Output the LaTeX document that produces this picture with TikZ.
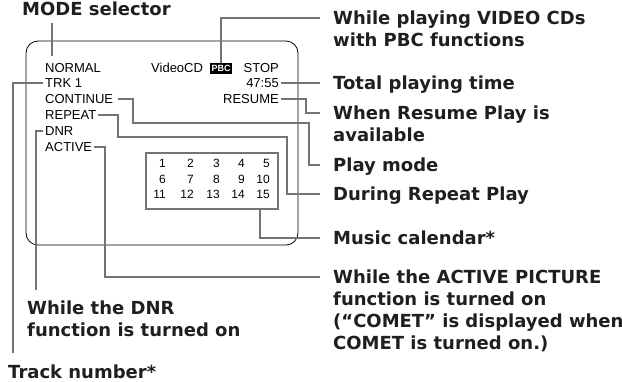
\documentclass[tikz,border=0pt]{standalone}
\usepackage{fontspec}
\setmainfont{Liberation Sans}
\newfontfamily\lblfont{DejaVu Sans}
\usetikzlibrary{positioning}

\tikzset{
  scr/.style={font=\fontsize{13}{15}\selectfont, inner sep=2pt, text height=9.4pt, text depth=0pt},
  lbl/.style={font=\lblfont\bfseries\fontsize{18}{22}\selectfont, text=black!88, inner sep=0pt, align=left, anchor=base west},
  lead/.style={draw=black!55, line width=1.6pt},
  num/.style={font=\fontsize{12}{14}\selectfont, anchor=base east, inner sep=0pt},
}

\begin{document}
\begin{tikzpicture}[x=1pt, y=-1pt]
  \useasboundingbox (0,0) rectangle (622,381);
  % screen
  \node[draw, line width=0.8pt, rounded corners=12pt, minimum width=272pt, minimum height=204pt] (screen) at (162,143) {};
  \node[scr, anchor=west] (normal) at (43,68) {NORMAL};
  \node[scr, anchor=west] (trk) at (43,83) {TRK 1};
  \node[scr, anchor=west] (cont) at (43,99) {CONTINUE};
  \node[scr, anchor=west] (rep) at (43,115) {REPEAT};
  \node[scr, anchor=west] (dnr) at (43,131) {DNR};
  \node[scr, anchor=west] (act) at (43,147) {ACTIVE};
  \node[scr, anchor=west] (video) at (149,68) {VideoCD};
  \node[fill=black, text=white, font=\bfseries\fontsize{9}{9}\selectfont, inner sep=1pt, minimum width=22pt, minimum height=11pt] (pbc) at (221,68.5) {PBC};
  \node[scr, anchor=east] (stop) at (281,68) {STOP};
  \node[scr, anchor=east] (time) at (281,83) {47:55};
  \node[scr, anchor=east] (resume) at (281,99) {RESUME};
  % music calendar
  \node[draw=black!55, line width=1.6pt, minimum width=132pt, minimum height=56pt, inner sep=0pt] (cal) at (212,181) {};
  \foreach \r in {0,1,2}
    \foreach \c/\x in {1/166,2/194,3/220,4/245,5/270} {
      \pgfmathtruncatemacro\n{5*\r+\c}
      \node[num] (n\n) at (\x,167.5+15.5*\r) {\n};
    }

  % labels (base = last line)
  \node[lbl] (mode) at (22,15) {MODE selector};
  \node[lbl] (lpbc) at (333,46) {While playing VIDEO CDs\\with PBC functions};
  \node[lbl] (ltime) at (333,89) {Total playing time};
  \node[lbl] (lres) at (333,141) {When Resume Play is\\available};
  \node[lbl] (lplay) at (333,171) {Play mode};
  \node[lbl] (lrep) at (333,200) {During Repeat Play};
  \node[lbl] (lcal) at (333,244) {Music calendar*};
  \node[lbl] (lact) at (333,349) {While the ACTIVE PICTURE\\function is turned on\\(“COMET” is displayed when\\COMET is turned on.)};
  \node[lbl] (ldnr) at (27,336) {While the DNR\\function is turned on};
  \node[lbl] (ltrk) at (8,378) {Track number*};

  % leader ends
  \coordinate (epbc) at (320,18);
  \coordinate (etrk) at (13,353);
  \coordinate (etime) at (320,83);
  \coordinate (eres) at (320,113);
  \coordinate (eplay) at (320,165);
  \coordinate (erep) at (320,194);
  \coordinate (ednr) at (36,290);
  \coordinate (eact) at (320,277);
  \coordinate (ecal) at (320,238);

  % leaders
  \draw[lead] (mode.south -| 52,0) ++(0,8) -- ([yshift=5pt]normal.north -| 52,0);
  \draw[lead] (pbc.north) |- (epbc);
  \draw[lead] (trk.west) -| (etrk);
  \draw[lead] (time.east) -- (etime);
  \draw[lead] (resume.east) -| (306,113) -- (eres);
  \draw[lead] ([xshift=3pt]cont.east) -| (133,123) -| (309,165) -- (eplay);
  \draw[lead] (rep.east) -| (118,137) -| (287,194) -- (erep);
  \draw[lead] (dnr.west) -| (ednr);
  \draw[lead] (act.east) -| (105,277) -- (eact);
  \draw[lead] ([xshift=48pt]cal.south) |- (ecal);
\end{tikzpicture}
\end{document}
